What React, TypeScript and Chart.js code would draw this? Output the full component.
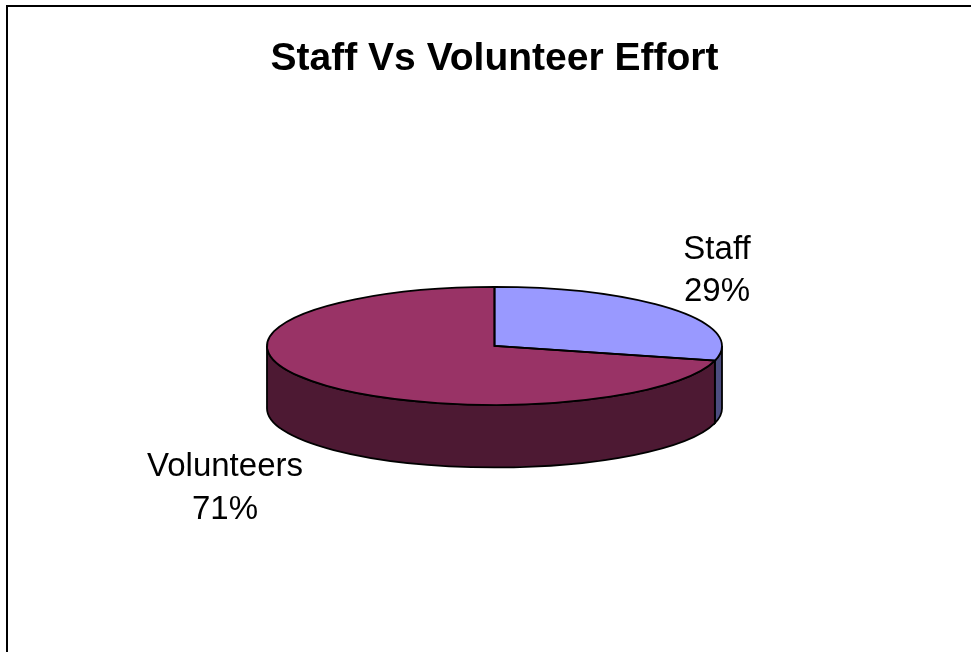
import React, { useEffect, useRef } from "react";
import { Chart, registerables } from "chart.js";

Chart.register(...registerables);

const TITLE = "Staff Vs Volunteer Effort";
const categories = ["Staff", "Volunteers"];
const values = [29, 71];
const percentLabels = ["29%", "71%"];
const topColors = ["#9999ff", "#993366"];
const sideColors = ["#4d4d80", "#4d1933"];
const labelCenters = [
  { x: 717, y: 249.5 },
  { x: 225, y: 467 },
];

const SQUASH = 59 / 227.5;
const DEPTH = 62.5;
const FONT = '"Liberation Sans", Arial, sans-serif';

const pie3d = {
  id: "pie3d",
  beforeDatasetsDraw(chart: any) {
    const { ctx } = chart;
    const arcs = chart.getDatasetMeta(0).data;
    const { x, y, outerRadius: r } = arcs[0].getProps(["x", "y", "outerRadius"], true);
    const wall = (i: number, a0: number, a1: number) => {
      ctx.save();
      ctx.beginPath();
      ctx.translate(x, y);
      ctx.scale(1, SQUASH);
      ctx.arc(0, 0, r, a0, a1);
      ctx.setTransform(1, 0, 0, 1, 0, 0);
      ctx.translate(x, y + DEPTH);
      ctx.scale(1, SQUASH);
      ctx.arc(0, 0, r, a1, a0, true);
      ctx.closePath();
      ctx.setTransform(1, 0, 0, 1, 0, 0);
      ctx.fillStyle = sideColors[i];
      ctx.fill();
      ctx.strokeStyle = "#000";
      ctx.lineWidth = 1.8;
      ctx.stroke();
      ctx.restore();
    };
    arcs.forEach((arc: any, i: number) => {
      const { startAngle, endAngle } = arc.getProps(["startAngle", "endAngle"], true);
      const a0 = Math.max(startAngle, 0);
      const a1 = Math.min(endAngle, Math.PI);
      if (a1 > a0) wall(i, a0, a1);
    });
    ctx.save();
    ctx.translate(0, y);
    ctx.scale(1, SQUASH);
    ctx.translate(0, -y);
  },
  afterDatasetsDraw(chart: any) {
    const { ctx } = chart;
    ctx.restore();
    const arcs = chart.getDatasetMeta(0).data;
    arcs.forEach((arc: any) => {
      const { x, y, outerRadius: r, startAngle, endAngle } = arc.getProps(
        ["x", "y", "outerRadius", "startAngle", "endAngle"],
        true
      );
      ctx.save();
      ctx.beginPath();
      ctx.translate(x, y);
      ctx.scale(1, SQUASH);
      ctx.moveTo(0, 0);
      ctx.arc(0, 0, r, startAngle, endAngle);
      ctx.closePath();
      ctx.setTransform(1, 0, 0, 1, 0, 0);
      ctx.strokeStyle = "#000";
      ctx.lineWidth = 1.8;
      ctx.stroke();
      ctx.restore();
    });
  },
  afterDraw(chart: any) {
    const { ctx, width, height } = chart;
    ctx.save();
    ctx.fillStyle = "#000";
    ctx.fillRect(6, 5, width - 6, 2);
    ctx.fillRect(6, 5, 2, height - 5);
    ctx.font = `33px ${FONT}`;
    ctx.textAlign = "center";
    ctx.textBaseline = "middle";
    categories.forEach((c, i) => {
      ctx.fillText(c, labelCenters[i].x, labelCenters[i].y);
      ctx.fillText(percentLabels[i], labelCenters[i].x, labelCenters[i].y + 42.5);
    });
    ctx.restore();
  },
};

export default function App() {
  const ref = useRef<HTMLCanvasElement | null>(null);
  useEffect(() => {
    document.body.style.margin = "0";
    document.body.style.background = "#fff";
    const chart = new Chart(ref.current!, {
      type: "pie",
      data: {
        labels: categories,
        datasets: [{ data: values, backgroundColor: topColors, borderWidth: 0 }],
      },
      options: {
        responsive: false,
        animation: false,
        devicePixelRatio: 1,
        layout: { padding: { left: 267, right: 249, top: 36, bottom: 43 } },
        plugins: {
          legend: { display: false },
          tooltip: { enabled: false },
          title: {
            display: true,
            text: TITLE,
            color: "#000",
            padding: 0,
            font: { family: FONT, size: 39, weight: "bold" },
          },
        },
      },
      plugins: [pie3d],
    } as any);
    return () => chart.destroy();
  }, []);
  return <canvas ref={ref} width={971} height={652} style={{ display: "block" }} />;
}
